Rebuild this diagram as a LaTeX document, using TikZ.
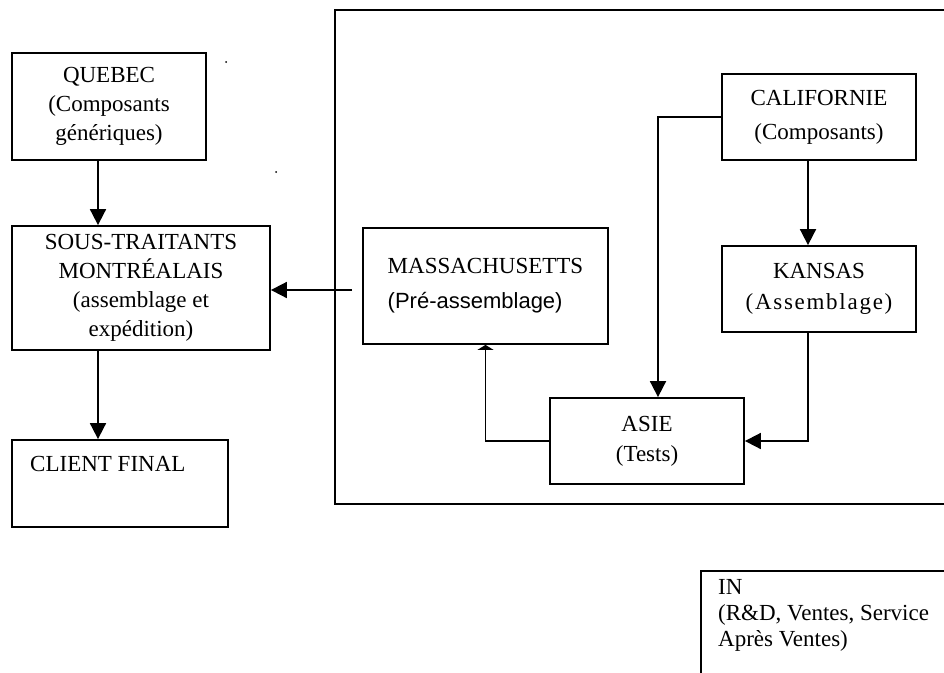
\documentclass[tikz,border=0pt]{standalone}
\usepackage{fontspec}
\setmainfont{Liberation Serif}
\newfontfamily\arialfont{Liberation Sans}
\usetikzlibrary{arrows.meta,positioning}

\begin{document}
\begin{tikzpicture}[x=1pt,y=-1pt,
    box/.style={draw,line width=1.8pt,inner sep=0pt,align=center,
                font=\fontsize{23}{29}\selectfont},
    txt/.style={inner sep=0pt,font=\fontsize{23}{26}\selectfont},
    fleche/.style={line width=1.8pt,-{Triangle[width=16pt,length=16pt]}}]
        % --- page et cadre ---
        \useasboundingbox (0,0) rectangle (944,672);
        \clip (0,0) rectangle (944,672);
        \draw[line width=1.8pt] (335,10) rectangle (970,504);
        % --- colonne de gauche ---
        \node[box,minimum width=194pt,minimum height=107pt] (quebec) at (109,106.5)
              {QUEBEC\\(Composants\\génériques)};
        \node[box,minimum width=258pt,minimum height=124pt] (sous) at (141,288)
              {SOUS-TRAITANTS\\MONTRÉALAIS\\(assemblage et\\expédition)};
        \node[box,minimum width=216pt,minimum height=87pt] (client) at (120,483.5) {};
        \node[txt,anchor=base west] (client-txt) at (30,471.5) {CLIENT FINAL};
        % --- cadre de droite ---
        \node[box,align=left,minimum width=245pt,minimum height=116pt] (mass) at (485.5,286)
              {MASSACHUSETTS\\[6pt]{\arialfont\fontsize{22}{26}\selectfont(Pré-assemblage)}};
        \node[box,minimum width=194pt,minimum height=86pt] (calif) at (819,117)
              {CALIFORNIE\\[5pt](Composants)};
        \node[box,minimum width=194pt,minimum height=86pt] (kansas) at (819,289)
              {KANSAS\\[2pt]{\addfontfeature{LetterSpace=7.5}(Assemblage)}};
        \node[box,minimum width=194pt,minimum height=86pt] (asie) at (647,441)
              {ASIE\\[1pt](Tests)};
        % --- IN (coupé par le bord) ---
        \node[draw,line width=1.8pt,anchor=north west,minimum width=270pt,
              minimum height=130pt] (in) at (700,570) {};
        \node[txt,anchor=north west,align=left] (in-txt) at (718,579)
              {IN\\(R\&D, Ventes, Service\\Après Ventes)};
        % --- points isolés ---
        \fill (226,62) circle (1pt);
        \fill (276,172) circle (1pt);
        % --- flèches ---
        \coordinate (colG) at (98,0);
        \coordinate (ligM) at (0,290);
        \coordinate (colA) at (658,0);
        \coordinate (colK) at (808,0);
        \draw[fleche] (quebec.south -| colG) -- (sous.north -| colG);
        \draw[fleche] (sous.south -| colG) -- (client.north -| colG);
        \draw[fleche,shorten <=10pt] (mass.west |- ligM) -- (sous.east |- ligM);
        \draw[fleche] (calif.west) -| (asie.north -| colA);
        \draw[fleche] (calif.south -| colK) -- (kansas.north -| colK);
        \draw[fleche] (kansas.south -| colK) |- (asie.east);
        \draw[line width=1.8pt,-{Triangle[width=16pt,length=5pt]}] (asie.west) -| (mass.south);
\end{tikzpicture}
\end{document}
